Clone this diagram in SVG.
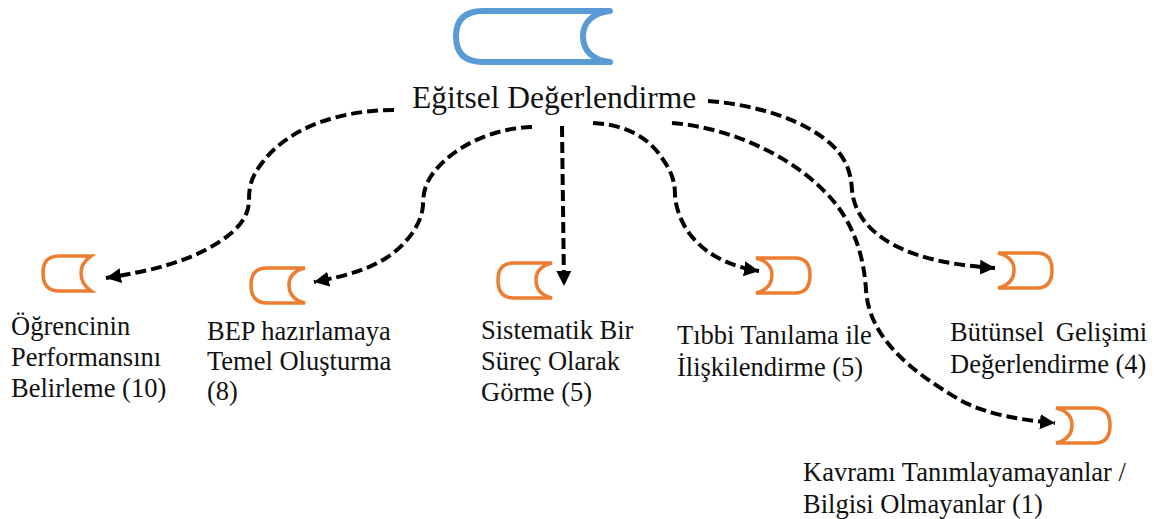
<svg xmlns="http://www.w3.org/2000/svg" width="1155" height="519" viewBox="0 0 1155 519">
<defs>
<marker id="ah" markerUnits="userSpaceOnUse" markerWidth="18" markerHeight="18" refX="15" refY="9" orient="auto"><path d="M0,1.500 L15,9 L0,16.500 Z" fill="#000"/></marker>
<path id="L1" d="M49,1 H17 Q1,1 1,18 Q1,36 17,36 H49 Q39,29 39,18 Q39,8 49,1 Z"/>
<path id="L" d="M55,1 H17 Q1,1 1,18 Q1,36 17,36 H55 Q39,32 39,18 Q39,5 55,1 Z"/>
<path id="R" d="M1,1 H40 Q55,1 55,18 Q55,36 40,36 H1 Q17,32 17,18 Q17,5 1,1 Z"/>
</defs>
<style>
text{font-family:"Liberation Serif","Times New Roman",serif;fill:#111;font-size:26.500px}
.o{fill:#fff;stroke:#ed7d31;stroke-width:3.500;stroke-linejoin:miter}
.c{fill:none;stroke:#000;stroke-width:4;stroke-dasharray:11 5;marker-end:url(#ah)}
</style>
<g id="connectors">
<path class="c" d="M394,110 C345,110 290,125 262,163 C252,176 249,185 249,200 C249,215 240,228 222,240 C190,262 150,271 106,278"/>
<path class="c" d="M532,127 C495,128 455,145 434,172 C426,182 423,192 423,205 C422,222 410,240 392,254 C370,270 345,276 314,282"/>
<path class="c" d="M562,126 L564,286"/>
<path class="c" d="M593,123 C630,125 650,140 662,158 C672,172 675,182 675,195 C677,225 700,262 759,271"/>
<path class="c" d="M708,101 C760,105 810,122 835,148 C848,162 851,175 852,190 C855,225 890,262 995,268"/>
<path class="c" d="M672,123 C735,128 800,160 835,203 C855,228 864,258 866,290 C869,335 905,368 960,400 C985,414 1020,420 1055,423"/>
</g>
<g id="root"><path d="M610,11 H483 Q456,11 456,36.500 Q456,62 483,62 H610 C592,60 583,50 583,36.500 C583,23 592,13 610,11" fill="#fff" stroke="#5b9bd5" stroke-width="6" stroke-linecap="round" stroke-linejoin="round"/>
<text x="412" y="108" style="font-size:31.500px">Eğitsel Değerlendirme</text></g>
<g id="n1"><use href="#L1" class="o" x="42" y="255"/><text x="11" y="335">Öğrencinin</text><text x="11" y="366">Performansını</text><text x="11" y="397">Belirleme (10)</text></g>
<g id="n2"><use href="#L" class="o" x="250" y="267"/><text x="207" y="340">BEP hazırlamaya</text><text x="207" y="370">Temel Oluşturma</text><text x="207" y="400">(8)</text></g>
<g id="n3"><use href="#L" class="o" x="497" y="262"/><text x="481" y="339">Sistematik Bir</text><text x="481" y="370">Süreç Olarak</text><text x="481" y="401">Görme (5)</text></g>
<g id="n4"><use href="#R" class="o" x="755" y="257"/><text x="677" y="344">Tıbbi Tanılama ile</text><text x="677" y="376">İlişkilendirme (5)</text></g>
<g id="n5"><use href="#R" class="o" x="997" y="252"/><text x="950" y="341" style="word-spacing:5px">Bütünsel Gelişimi</text><text x="950" y="373">Değerlendirme (4)</text></g>
<g id="n6"><use href="#R" class="o" x="1055" y="407"/><text x="803" y="481">Kavramı Tanımlayamayanlar /</text><text x="803" y="513">Bilgisi Olmayanlar (1)</text></g>
</svg>
